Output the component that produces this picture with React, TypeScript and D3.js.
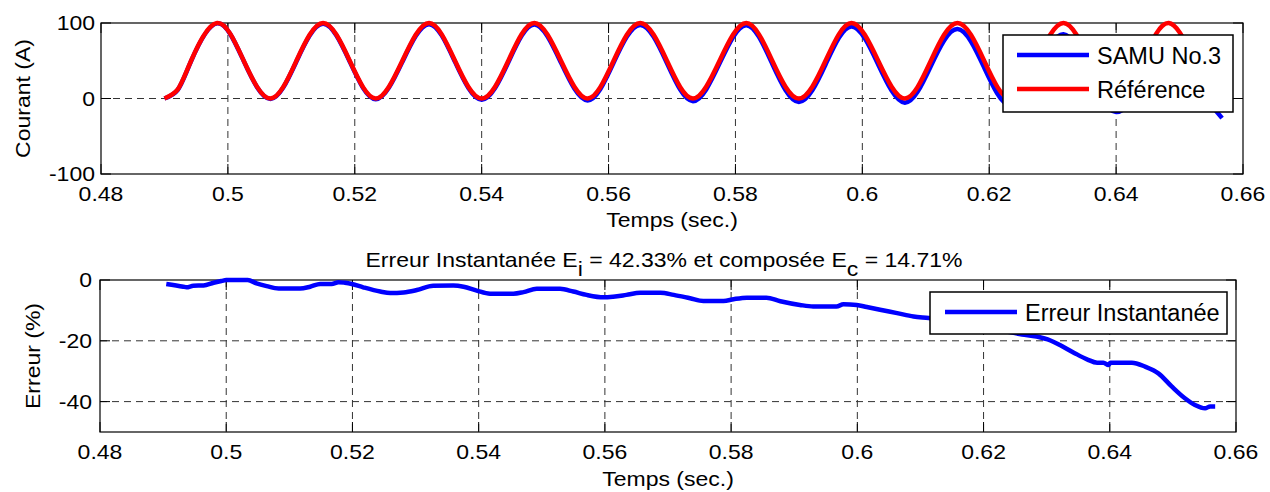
import React from 'react';
import * as d3 from 'd3';

// ---------- data ----------
const refTime = [
  0.4900, 0.4921, 0.4942, 0.4983, 0.5025, 0.5067, 0.5108, 0.5150, 0.5192, 0.5233, 0.5275,
  0.5317, 0.5358, 0.5400, 0.5442, 0.5483, 0.5525, 0.5567, 0.5608, 0.5650, 0.5692,
  0.5733, 0.5775, 0.5817, 0.5858, 0.5900, 0.5942, 0.5983, 0.6025, 0.6067, 0.6108,
  0.6150, 0.6192, 0.6233, 0.6275, 0.6317, 0.6358, 0.6400, 0.6442, 0.6483, 0.6525,
  0.6566,
];
const refValue = [
  0, 12, 50, 100, 50, 0, 50, 100, 50, 0, 50,
  100, 50, 0, 50, 100, 50, 0, 50, 100, 50,
  0, 50, 100, 50, 0, 50, 100, 50, 0, 50,
  100, 50, 0, 50, 100, 50, 0, 50, 100, 50,
  0,
];

const samuTime = [
  0.4900, 0.4921, 0.4942, 0.4983, 0.5025, 0.5067, 0.5108, 0.5150, 0.5192, 0.5233, 0.5275,
  0.5317, 0.5358, 0.5400, 0.5442, 0.5483, 0.5525, 0.5567, 0.5608, 0.5650, 0.5692,
  0.5733, 0.5775, 0.5817, 0.5858, 0.5900, 0.5942, 0.5983, 0.6025, 0.6067, 0.6108,
  0.6150, 0.6192, 0.6233, 0.6275, 0.6317, 0.6358, 0.6400, 0.6442, 0.6483, 0.6525,
  0.6545, 0.6567,
];
const samuValue = [
  0, 11.5, 49.5, 99.5, 49.5, -0.5, 49, 99, 49, -1, 48.5,
  98.5, 48.5, -1.5, 48, 98, 47.5, -2.5, 47.5, 97.5, 47,
  -3.5, 46.5, 97, 46, -4.5, 45, 95.5, 45, -5.5, 43,
  92, 41, -9, 37, 85, 33, -18, 28, 76, 23,
  -4, -26,
];

const errTime = [
  0.4905, 0.4932, 0.4937, 0.4948, 0.4964, 0.4980, 0.4993, 0.5000, 0.5034, 0.5048,
  0.5064, 0.5083, 0.5117, 0.5133, 0.5149, 0.5167, 0.5178, 0.5188, 0.5199, 0.5217,
  0.5244, 0.5260, 0.5281, 0.5302, 0.5328, 0.5360, 0.5376, 0.5397, 0.5418, 0.5455,
  0.5471, 0.5492, 0.5529, 0.5550, 0.5571, 0.5598, 0.5613, 0.5634, 0.5656, 0.5688,
  0.5709, 0.5735, 0.5756, 0.5788, 0.5804, 0.5825, 0.5856, 0.5878, 0.5909, 0.5930,
  0.5967, 0.5978, 0.5999, 0.6015, 0.6036, 0.6063, 0.6089, 0.6113, 0.6163, 0.6213,
  0.6261, 0.6284, 0.6306, 0.6321, 0.6343, 0.6364, 0.6380, 0.6390, 0.6398, 0.6401,
  0.6435, 0.6456, 0.6477, 0.6498, 0.6519, 0.6535, 0.6551, 0.6559, 0.6567,
];
const errValue = [
  -1.3, -2.2, -2.4, -1.9, -1.8, -0.9, -0.3, 0, 0, -1.1,
  -2.0, -2.8, -2.8, -2.2, -1.3, -1.3, -0.7, -0.9, -1.3, -2.4,
  -3.8, -4.3, -4.1, -3.3, -1.9, -1.8, -2.2, -3.5, -4.5, -4.5,
  -4.0, -2.9, -2.9, -3.8, -4.9, -5.7, -5.5, -4.9, -4.2, -4.2,
  -4.9, -6.0, -6.9, -6.9, -6.3, -5.8, -5.8, -7.0, -8.2, -8.7,
  -8.7, -8.0, -8.2, -8.9, -9.8, -10.9, -12.0, -12.5, -14.0, -16.0,
  -17.9, -18.6, -19.9, -21.4, -23.9, -26.1, -27.2, -27.2, -28.0, -27.2,
  -27.2, -28.5, -30.7, -35.0, -38.9, -41.1, -42.2, -41.6, -41.6,
];

const xTicks = [0.48, 0.5, 0.52, 0.54, 0.56, 0.58, 0.6, 0.62, 0.64, 0.66];
const xTickLabels = ['0.48', '0.5', '0.52', '0.54', '0.56', '0.58', '0.6', '0.62', '0.64', '0.66'];
const topYTicks = [-100, 0, 100];
const topYTickLabels = ['-100', '0', '100'];
const botYTicks = [-40, -20, 0];
const botYTickLabels = ['-40', '-20', '0'];

const FONT = '"Liberation Sans", Arial, Helvetica, sans-serif';
const SX = 1.15;

function T({ x, y, anchor = 'middle', rotate = 0, size = 20, sx = SX, children }: any) {
  return (
    <text
      transform={`translate(${x},${y}) rotate(${rotate}) scale(${sx},1)`}
      textAnchor={anchor}
      fontSize={size}
      fontFamily={FONT}
      fill="#000"
      style={{ whiteSpace: 'pre' }}
    >
      {children}
    </text>
  );
}

function Axes({ x, y, yTicks, yLabels, labelEnd }: any) {
  const [x0, x1] = x.range();
  const [y0, y1] = y.range(); // y0 bottom, y1 top
  const tick = 10;
  return (
    <g>
      {xTicks.slice(1, -1).map((t: number) => (
        <line key={'gx' + t} x1={x(t)} x2={x(t)} y1={y1} y2={y0}
          stroke="#333" strokeWidth={1} strokeDasharray="7,5" />
      ))}
      {yTicks.filter((v: number) => y(v) > y1 + 1 && y(v) < y0 - 1).map((v: number) => (
        <line key={'gy' + v} x1={x0} x2={x1} y1={y(v)} y2={y(v)}
          stroke="#333" strokeWidth={1} strokeDasharray="7,5" />
      ))}
      {xTicks.map((t: number) => (
        <g key={'tx' + t}>
          <line x1={x(t)} x2={x(t)} y1={y0} y2={y0 - tick} stroke="#000" />
          <line x1={x(t)} x2={x(t)} y1={y1} y2={y1 + tick} stroke="#000" />
        </g>
      ))}
      {yTicks.map((v: number) => (
        <g key={'ty' + v}>
          <line x1={x0} x2={x0 + tick} y1={y(v)} y2={y(v)} stroke="#000" />
          <line x1={x1} x2={x1 - tick} y1={y(v)} y2={y(v)} stroke="#000" />
        </g>
      ))}
      <rect x={x0} y={y1} width={x1 - x0} height={y0 - y1} fill="none" stroke="#000" strokeWidth={1.2} />
      {xTicks.map((t: number, i: number) => (
        <T key={'lx' + t} x={x(t)} y={y0 + 27}>{xTickLabels[i]}</T>
      ))}
      {yTicks.map((v: number, i: number) => (
        <T key={'ly' + v} x={labelEnd} y={y(v) + 7.3} anchor="end">{yLabels[i]}</T>
      ))}
    </g>
  );
}

export default function App() {
  const xTop = d3.scaleLinear().domain([0.48, 0.66]).range([101, 1243]);
  const yTop = d3.scaleLinear().domain([-100, 100]).range([174, 23]);
  const xBot = d3.scaleLinear().domain([0.48, 0.66]).range([100, 1236]);
  const yBot = d3.scaleLinear().domain([-50, 0]).range([432, 280]);

  const topLine = (ts: number[], vs: number[]) =>
    d3.line<number>().x((_, i) => xTop(ts[i])).y((v) => yTop(v)).curve(d3.curveNatural)(vs) || '';
  const errPath =
    d3.line<number>().x((_, i) => xBot(errTime[i])).y((v) => yBot(v)).curve(d3.curveMonotoneX)(errValue) || '';

  return (
    <svg width={1270} height={492} style={{ position: 'absolute', left: 0, top: 0, background: '#fff' }}>
      <rect x={0} y={0} width={1270} height={492} fill="#fff" />
      {/* top subplot */}
      <Axes x={xTop} y={yTop} yTicks={topYTicks} yLabels={topYTickLabels} labelEnd={95} />
      <path d={topLine(samuTime, samuValue)} fill="none" stroke="#0000ff" strokeWidth={4.5} strokeLinejoin="round" />
      <path d={topLine(refTime, refValue)} fill="none" stroke="#ff0000" strokeWidth={4.5} strokeLinejoin="round" />
      <T x={30} y={98.5} rotate={-90}>Courant (A)</T>
      <T x={672} y={227}>Temps (sec.)</T>
      <g>
        <rect x={1003} y={35} width={230} height={77} fill="#fff" stroke="#000" strokeWidth={1.5} />
        <line x1={1017} x2={1089} y1={55} y2={55} stroke="#0000ff" strokeWidth={4.5} />
        <line x1={1017} x2={1089} y1={89} y2={89} stroke="#ff0000" strokeWidth={4.5} />
        <T x={1097} y={63.5} anchor="start" size={23.5} sx={1}>SAMU No.3</T>
        <T x={1097} y={97.5} anchor="start" size={23.5} sx={1}>Référence</T>
      </g>

      {/* bottom subplot */}
      <text
        transform={`translate(664,267) scale(${SX},1)`}
        textAnchor="middle" fontSize={20} fontFamily={FONT} fill="#000" style={{ whiteSpace: 'pre' }}
      >
        Erreur Instantanée E<tspan dy={9}>i</tspan><tspan dy={-9}> = 42.33% et composée E</tspan>
        <tspan dy={9}>c</tspan><tspan dy={-9}> = 14.71%</tspan>
      </text>
      <Axes x={xBot} y={yBot} yTicks={botYTicks} yLabels={botYTickLabels} labelEnd={92} />
      <path d={errPath} fill="none" stroke="#0000ff" strokeWidth={4.5} strokeLinejoin="round" />
      <T x={39.5} y={356} rotate={-90}>Erreur (%)</T>
      <T x={668} y={486}>Temps (sec.)</T>
      <g>
        <rect x={930} y={292} width={297} height={42} fill="#fff" stroke="#000" strokeWidth={1.5} />
        <line x1={945} x2={1017} y1={312} y2={312} stroke="#0000ff" strokeWidth={4.5} />
        <T x={1025} y={320.5} anchor="start" size={23.5} sx={1}>Erreur Instantanée</T>
      </g>
    </svg>
  );
}
